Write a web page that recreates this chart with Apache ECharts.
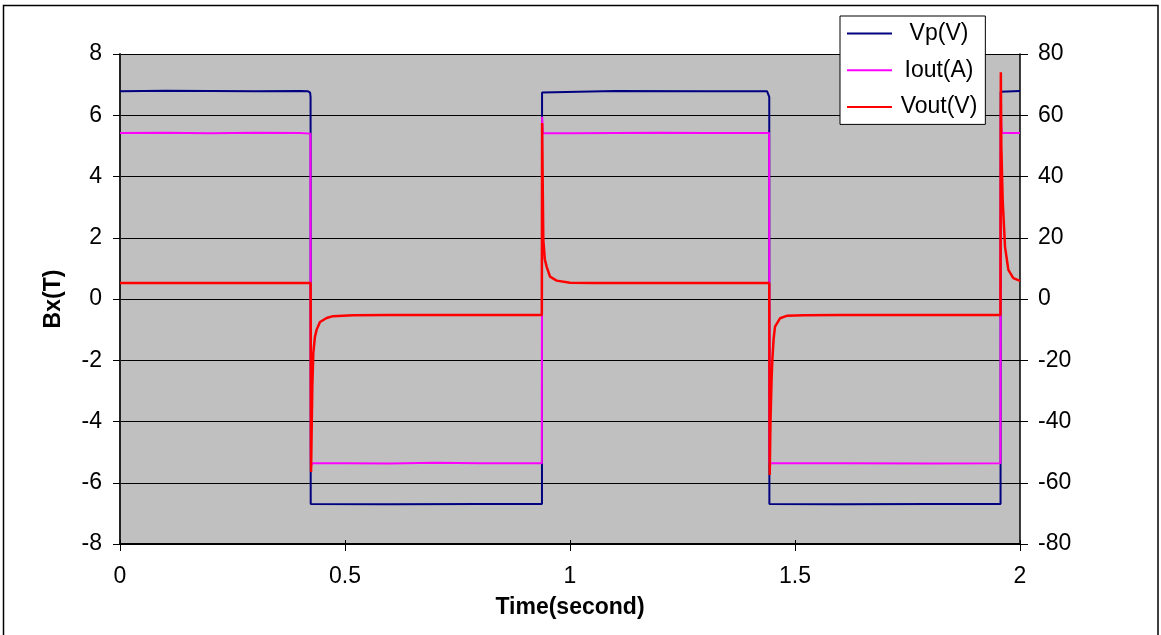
<!DOCTYPE html>
<html>
<head>
<meta charset="utf-8">
<script src="https://cdn.jsdelivr.net/npm/echarts/dist/echarts.min.js"></script>
<style>
html,body{margin:0;padding:0;background:#fff;}
#chart{width:1161px;height:635px;}
</style>
</head>
<body>
<div id="chart"></div>
<script>
// ---- data (time in seconds) ----
const seriesNames = ['Vp(V)', 'Iout(A)', 'Vout(V)'];
const xTicks = [0, 0.5, 1, 1.5, 2];
const leftTicks = [-8, -6, -4, -2, 0, 2, 4, 6, 8];
const rightTicks = [-80, -60, -40, -20, 0, 20, 40, 60, 80];

// Vp(V) on left axis
const vpData = [
  [0, 6.78], [0.1, 6.80], [0.2, 6.79], [0.3, 6.78], [0.4, 6.79], [0.418, 6.78], [0.4225, 6.74], [0.4235, 6.6],
  [0.4238, -6.69], [0.6, -6.70], [0.8, -6.69], [0.9377, -6.69],
  [0.9379, 6.74], [0.941, 6.79], [1.1, 6.79], [1.3, 6.78], [1.438, 6.78], [1.4418, 6.74], [1.4428, 6.6],
  [1.4431, -6.69], [1.6, -6.70], [1.8, -6.69], [1.9568, -6.69],
  [1.9571, 6.77], [1.96, 6.79], [2.0, 6.79]
];

// Iout(A) on left axis
const ioutData = [
  [0, 5.42], [0.1, 5.43], [0.2, 5.41], [0.3, 5.43], [0.4, 5.42], [0.4232, 5.40],
  [0.4240, -5.30], [0.4255, -5.45], [0.4262, -5.36], [0.5, -5.36], [0.6, -5.37], [0.7, -5.35], [0.8, -5.36], [0.9374, -5.36],
  [0.9380, 5.95], [0.9392, 5.6], [0.9400, 5.42], [1.0, 5.41], [1.1, 5.42], [1.2, 5.43], [1.3, 5.42], [1.4425, 5.42],
  [1.4433, -5.30], [1.4447, -5.45], [1.4455, -5.36], [1.6, -5.36], [1.8, -5.37], [1.9566, -5.36],
  [1.9572, 6.12], [1.9585, 5.6], [1.9600, 5.42], [2.0, 5.42]
];

// Vout(V) on right axis
const voutData = [
  [0, 5.2], [0.2, 5.2], [0.4236, 5.2],
  [0.4246, -56.5], [0.4262, -40], [0.4275, -28], [0.4296, -17.6], [0.4330, -12.5], [0.4370, -10], [0.4444, -7.5],
  [0.4593, -6.2], [0.4733, -5.6], [0.5178, -5.3], [0.6, -5.22], [0.7, -5.2], [0.9374, -5.2],
  [0.9380, 57.5], [0.9392, 40], [0.9407, 19.3], [0.9440, 13], [0.9482, 10.5], [0.9556, 7.3], [0.9704, 6.0],
  [1.0, 5.3], [1.05, 5.22], [1.2, 5.2], [1.4427, 5.2],
  [1.4438, -57.5], [1.4455, -40], [1.4480, -26], [1.4496, -20], [1.4525, -13], [1.4556, -9], [1.4667, -6.3],
  [1.4815, -5.5], [1.52, -5.3], [1.6, -5.22], [1.7, -5.2], [1.9566, -5.2],
  [1.9574, 74], [1.9585, 50], [1.9615, 32.3], [1.9667, 17.1], [1.9741, 9.5], [1.9852, 6.8], [2.0, 5.9]
];

const FONT = 'Liberation Sans, Arial, sans-serif';
const chart = echarts.init(document.getElementById('chart'), null, {renderer: 'canvas'});

const option = {
  animation: false,
  backgroundColor: '#ffffff',
  textStyle: {fontFamily: FONT},
  graphic: [{
    type: 'rect', z: 100, silent: true,
    shape: {x: 3.5, y: 5.5, width: 1154.5, height: 650},
    style: {fill: 'none', stroke: '#000', lineWidth: 1.5}
  }],
  grid: {left: 120, right: 141, top: 54, bottom: 91, show: true, backgroundColor: '#c0c0c0', borderWidth: 0},
  legend: {
    data: seriesNames,
    orient: 'vertical',
    left: 840, top: 16,
    backgroundColor: '#ffffff',
    borderColor: '#000', borderWidth: 1,
    padding: [6, 8, 6, 7],
    itemWidth: 45, itemHeight: 2, itemGap: 13.7, itemTextGap: 5,
    icon: 'rect',
    formatter: function (n) { return '{a|' + n + '}'; },
    textStyle: {
      fontSize: 23, color: '#000', fontFamily: FONT,
      rich: {a: {width: 84, align: 'center', fontSize: 23, fontFamily: FONT, color: '#000'}}
    }
  },
  xAxis: [{
    type: 'value', min: xTicks[0], max: xTicks[xTicks.length - 1], interval: 0.5,
    position: 'bottom',
    axisLine: {show: true, onZero: false, lineStyle: {color: '#000', width: 2}},
    axisTick: {show: true, length: 7, lineStyle: {color: '#000', width: 1}},
    axisLabel: {margin: 21, fontSize: 23, color: '#000', fontFamily: FONT},
    splitLine: {show: false},
    name: 'Time(second)', nameLocation: 'middle', nameGap: 52,
    nameTextStyle: {fontSize: 23, fontWeight: 'bold', color: '#000', fontFamily: FONT}
  }, {
    type: 'value', min: xTicks[0], max: xTicks[xTicks.length - 1], interval: 0.5,
    position: 'bottom',
    axisLine: {show: false, onZero: false},
    axisTick: {show: true, inside: true, length: 4, lineStyle: {color: '#000', width: 1}},
    axisLabel: {show: false},
    splitLine: {show: false}
  }],
  yAxis: [{
    type: 'value', min: leftTicks[0], max: leftTicks[leftTicks.length - 1], interval: 2,
    position: 'left',
    axisLine: {show: true, onZero: false, lineStyle: {color: '#222', width: 2}},
    axisTick: {show: true, length: 7, lineStyle: {color: '#000', width: 1}},
    axisLabel: {margin: 18, fontSize: 23, color: '#000', fontFamily: FONT},
    splitLine: {show: true, lineStyle: {color: '#000', width: 1}},
    name: 'Bx(T)', nameLocation: 'middle', nameGap: 55, nameRotate: 90,
    nameTextStyle: {fontSize: 23, fontWeight: 'bold', color: '#000', fontFamily: FONT}
  }, {
    type: 'value', min: rightTicks[0], max: rightTicks[rightTicks.length - 1], interval: 20,
    position: 'right',
    axisLine: {show: true, onZero: false, lineStyle: {color: '#000', width: 1.5}},
    axisTick: {show: true, length: 8, lineStyle: {color: '#000', width: 1}},
    axisLabel: {margin: 18, fontSize: 23, color: '#000', fontFamily: FONT},
    splitLine: {show: false}
  }],
  series: [{
    name: seriesNames[0], type: 'line', xAxisIndex: 0, yAxisIndex: 0,
    data: vpData, showSymbol: false, symbol: 'none',
    lineStyle: {color: '#000080', width: 2}, itemStyle: {color: '#000080'}, z: 2
  }, {
    name: seriesNames[1], type: 'line', xAxisIndex: 0, yAxisIndex: 0,
    data: ioutData, showSymbol: false, symbol: 'none',
    lineStyle: {color: '#ff00ff', width: 2}, itemStyle: {color: '#ff00ff'}, z: 3
  }, {
    name: seriesNames[2], type: 'line', xAxisIndex: 0, yAxisIndex: 1,
    data: voutData, showSymbol: false, symbol: 'none',
    lineStyle: {color: '#ff0000', width: 2.5}, itemStyle: {color: '#ff0000'}, z: 4
  }]
};
chart.setOption(option);
</script>
</body>
</html>
